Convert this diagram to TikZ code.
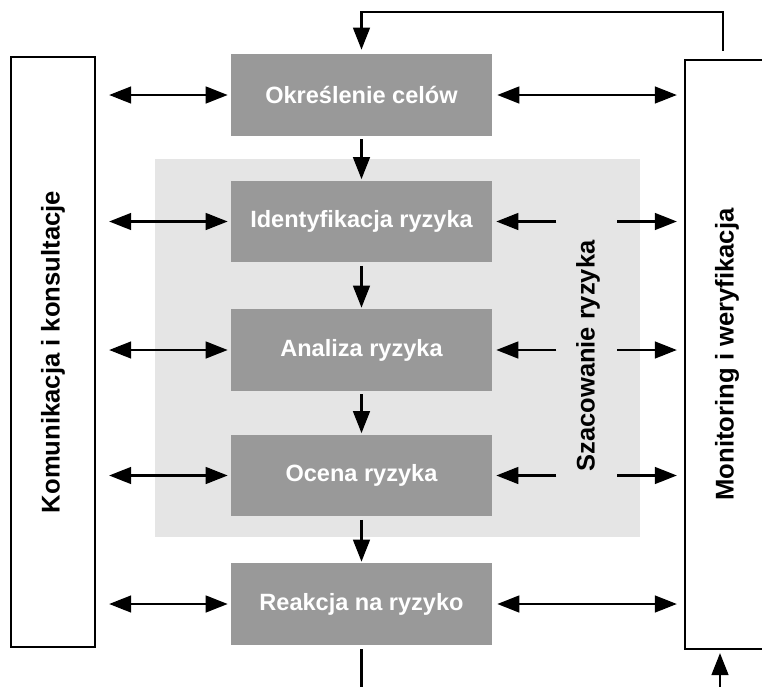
\documentclass[tikz,border=0pt]{standalone}
\usepackage{fontspec}
\setmainfont{Liberation Sans}
\usetikzlibrary{arrows.meta,calc}

\definecolor{ciemny}{HTML}{999999}
\definecolor{jasny}{HTML}{E5E5E5}

\begin{document}
\begin{tikzpicture}[x=0.02cm, y=-0.02cm,
  grot/.tip={Triangle[length=12.5pt,width=9.5pt]},
  arr/.style={-grot, line width=1.3pt},
  dwu/.style={grot-grot, line width=1.3pt},
  krok/.style={fill=ciemny, text=white, minimum width=5.22cm, minimum height=1.64cm,
    inner sep=0pt, font=\fontsize{13.4}{16}\selectfont\bfseries},
  ramka/.style={draw, line width=1.3pt, fill=white, minimum width=1.68cm, inner sep=0pt,
    font=\fontsize{14.6}{17}\selectfont\bfseries}]
  \useasboundingbox (0,0) rectangle (762,687);
  \clip (0,0) rectangle (762,687);

  % Szacowanie ryzyka
  \fill[jasny] (155,159) rectangle (640,537);
  \node[rotate=90, font=\fontsize{14.5}{17}\selectfont\bfseries] (szac) at (588,356) {Szacowanie ryzyka};

  % Kroki procesu
  \node[krok] (okr) at (361.5,95) {Określenie celów};
  \node[krok] (ide) at (361.5,221.5) {Identyfikacja ryzyka};
  \node[krok] (ana) at (361.5,350) {Analiza ryzyka};
  \node[krok] (oce) at (361.5,475.5) {Ocena ryzyka};
  \node[krok] (rea) at (361.5,604) {Reakcja na ryzyko};

  % Boczne ramki
  \node[ramka, minimum height=11.8cm] (kom) at (53,352) {\rotatebox{90}{Komunikacja i konsultacje}};
  \node[ramka, minimum height=11.78cm] (mon) at (727,354.5) {\rotatebox{90}{Monitoring i weryfikacja}};

  % Strzalki pionowe
  \foreach \a/\b in {okr/ide, ide/ana, ana/oce, oce/rea}
    \draw[arr, shorten <=0.06cm, shorten >=0.02cm] (\a.south) -- (\b.north);

  % Komunikacja
  \foreach \n in {okr, ide, ana, oce, rea}
    \draw[dwu, shorten <=0.26cm, shorten >=0.06cm] (kom.east |- \n.west) -- (\n.west);

  % Monitoring
  \foreach \n in {okr, rea}
    \draw[dwu, shorten <=0.1cm, shorten >=0.14cm] (\n.east) -- (\n.east -| mon.west);
  \foreach \n in {ide, ana, oce} {
    \coordinate (\n-l) at ($(\n.east)+(64,0)$);
    \coordinate (\n-p) at ($(\n.east)+(125,0)$);
    \draw[arr, shorten >=0.08cm] (\n-l) -- (\n.east);
    \draw[arr, shorten >=0.14cm] (\n-p) -- (\n-p -| mon.west);
  }

  % Sprzezenie zwrotne
  \coordinate (gora) at (723,12);
  \draw[arr, shorten <=0.16cm, shorten >=0.08cm] (mon.north -| gora) -- (gora) -| (okr.north);
  \coordinate (dol) at (360,687);
  \draw[line width=1.3pt, shorten <=0.08cm] (rea.south) -- (rea.south |- dol);
  \coordinate (wej) at (720,687);
  \draw[arr, shorten >=0.06cm] (wej) -- (wej |- mon.south);

\end{tikzpicture}
\end{document}
